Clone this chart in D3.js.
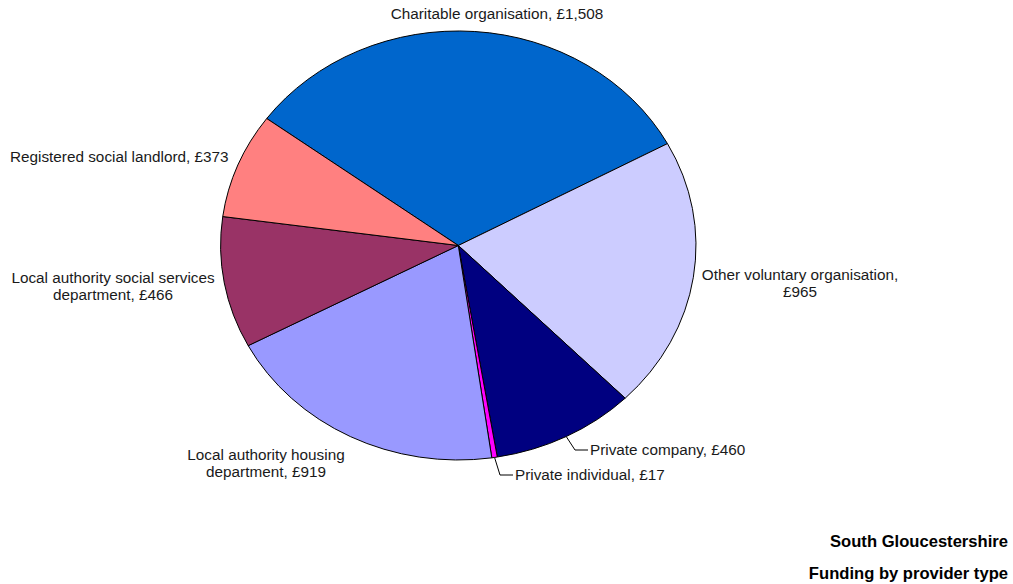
<!DOCTYPE html>
<html>
<head>
<meta charset="utf-8">
<script src="https://cdn.jsdelivr.net/npm/d3@7"></script>
<style>
  html, body { margin: 0; padding: 0; background: #fff; }
  svg { display: block; font-family: "Liberation Sans", Arial, sans-serif; }
</style>
</head>
<body>
<svg id="chart" width="1013" height="584"></svg>
<script>
// Funding by provider type, South Gloucestershire (£)
const providers = [
  "Charitable organisation",
  "Other voluntary organisation",
  "Private company",
  "Private individual",
  "Local authority housing department",
  "Local authority social services department",
  "Registered social landlord"
];
const funding = [1508, 965, 460, 17, 919, 466, 373];
const sliceColors = ["#0066CC", "#CCCCFF", "#000080", "#FF00FF", "#9999FF", "#993366", "#FF8080"];
// Label lines as printed beside each slice
const labelLines = [
  ["Charitable organisation, £1,508"],
  ["Other voluntary organisation,", "£965"],
  ["Private company, £460"],
  ["Private individual, £17"],
  ["Local authority housing", "department, £919"],
  ["Local authority social services", "department, £466"],
  ["Registered social landlord, £373"]
];
const titles = ["South Gloucestershire", "Funding by provider type"];

// Layout
const cx = 458.3, cy = 245.5, rx = 237.7, ry = 214.5;
const startDeg = -53.7;
const labelSize = 15.3, lineGap = 17, titleSize = 16.6;
// label placement: x, y of first line, anchor, optional leader elbow
const labelLayout = [
  { x: 497, y: 14, anchor: "middle" },
  { x: 800, y: 275, anchor: "middle" },
  { x: 590, y: 450, anchor: "start", leader: [[575, 450], [588, 450]] },
  { x: 515, y: 475, anchor: "start", leader: [[500, 475], [513, 475]] },
  { x: 266, y: 455, anchor: "middle" },
  { x: 113, y: 278, anchor: "middle" },
  { x: 10, y: 157, anchor: "start" }
];

const svg = d3.select("#chart");
const data = providers.map((p, i) => ({ name: p, value: funding[i], color: sliceColors[i], i }));

const start = startDeg * Math.PI / 180;
const pie = d3.pie().value(d => d.value).sort(null)
  .startAngle(start).endAngle(start + 2 * Math.PI);
const arcs = pie(data);
const arc = d3.arc().innerRadius(0).outerRadius(1);

const g = svg.append("g").attr("transform", `translate(${cx},${cy}) scale(${rx},${ry})`);
g.selectAll("path.slice")
  .data(arcs)
  .join("path")
  .attr("class", "slice")
  .attr("d", arc)
  .attr("fill", d => d.data.color)
  .attr("stroke", "#000")
  .attr("stroke-width", 1)
  .attr("stroke-linejoin", "round")
  .attr("vector-effect", "non-scaling-stroke");

// edge point of an ellipse slice at its mid angle
function edgePoint(a) {
  const m = (a.startAngle + a.endAngle) / 2;
  return [cx + rx * Math.sin(m), cy - ry * Math.cos(m)];
}

// leader lines
arcs.forEach((a, i) => {
  const L = labelLayout[i];
  if (!L.leader) return;
  const pts = [edgePoint(a)].concat(L.leader);
  svg.append("path")
    .attr("d", d3.line()(pts))
    .attr("fill", "none")
    .attr("stroke", "#000")
    .attr("stroke-width", 1);
});

// slice labels
arcs.forEach((a, i) => {
  const L = labelLayout[i];
  const t = svg.append("text")
    .attr("x", L.x)
    .attr("y", L.y)
    .attr("text-anchor", L.anchor)
    .attr("font-size", labelSize)
    .attr("fill", "#1a1a1a");
  labelLines[i].forEach((line, k) => {
    t.append("tspan")
      .attr("x", L.x)
      .attr("dy", k === 0 ? "0.35em" : lineGap)
      .text(line);
  });
});

// titles
titles.forEach((s, k) => {
  svg.append("text")
    .attr("x", 1008)
    .attr("y", 541 + k * 32)
    .attr("dy", "0.35em")
    .attr("text-anchor", "end")
    .attr("font-size", titleSize)
    .attr("font-weight", "bold")
    .attr("fill", "#000")
    .text(s);
});
</script>
</body>
</html>
